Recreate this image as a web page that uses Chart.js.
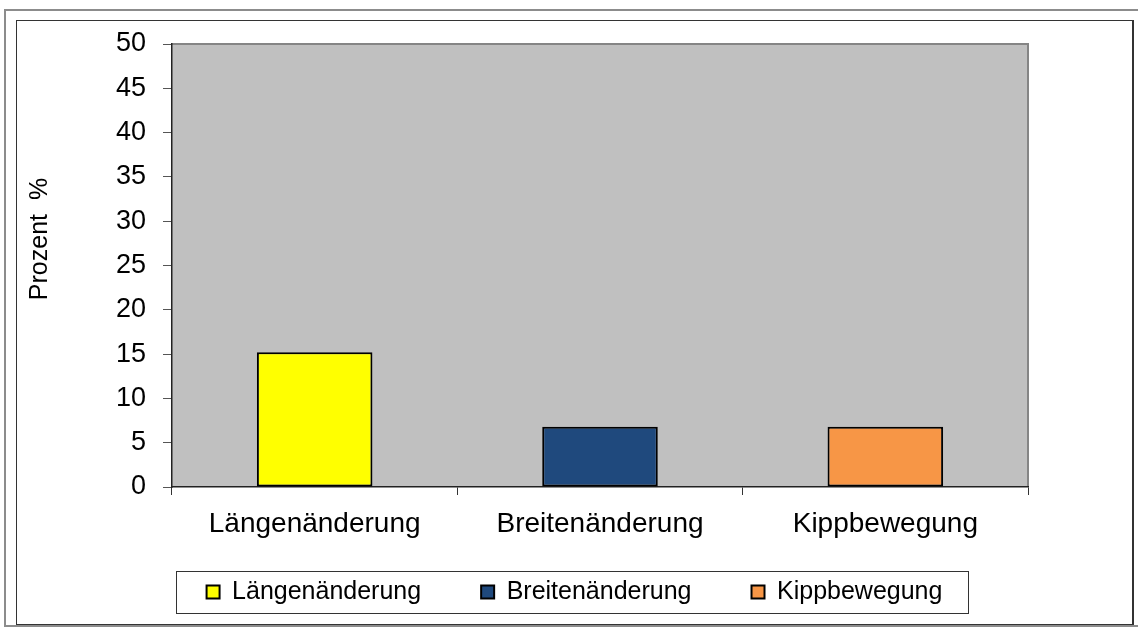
<!DOCTYPE html>
<html lang="de">
<head>
    <meta charset="UTF-8">
    <title>Prozent</title>
    <style>
        body {
            margin: 0;
            background: #fff;
            font-family: "Liberation Sans", Arial, sans-serif;
        }
        .outer {
            position: absolute;
            left: 4px;
            top: 9px;
            width: 1150px;
            height: 614px;
            border-top: 2px solid #8c8c8c;
            border-left: 2px solid #8c8c8c;
            border-bottom: 2px solid #8c8c8c;
        }
        .inner {
            position: absolute;
            left: 16px;
            top: 20px;
            width: 1115px;
            height: 603px;
            border: 1px solid #333;
            border-right: 2px solid #333;
            background: #fff;
        }
        canvas {
            display: block;
        }
    </style>
</head>
<body>
    <div class="outer"></div>
    <div class="inner">
        <canvas id="chart" width="1115" height="603"></canvas>
    </div>

    <script src="https://cdn.jsdelivr.net/npm/chart.js"></script>
    <script>
        const categories = ['Längenänderung', 'Breitenänderung', 'Kippbewegung'];
        const values = [15.2, 6.8, 6.8];
        const colors = ['#ffff00', '#1f497d', '#f79646'];
        const yTicks = [0, 5, 10, 15, 20, 25, 30, 35, 40, 45, 50];
        const yTitle = 'Prozent  %';

        // ein Datensatz pro Kategorie, damit die Legende drei Einträge hat
        const datasets = categories.map((name, i) => ({
            label: name,
            data: categories.map((c, j) => (j === i ? values[i] : null)),
            backgroundColor: colors[i],
            borderColor: '#000',
            borderWidth: 2,
            borderSkipped: false,
            grouped: false,
            categoryPercentage: 1,
            barPercentage: 0.405
        }));

        const plotBackground = {
            id: 'plotBackground',
            beforeDraw(chart) {
                const { ctx, chartArea: a } = chart;
                ctx.save();
                ctx.fillStyle = '#c0c0c0';
                ctx.fillRect(a.left, a.top, a.right - a.left, a.bottom - a.top);
                ctx.strokeStyle = '#858585';
                ctx.lineWidth = 2;
                ctx.beginPath();
                ctx.moveTo(a.left, a.top);
                ctx.lineTo(a.right, a.top);
                ctx.lineTo(a.right, a.bottom);
                ctx.stroke();
                ctx.restore();
            }
        };

        const extras = {
            id: 'extras',
            afterDraw(chart) {
                const ctx = chart.ctx;
                ctx.save();
                // Achsentitel
                ctx.translate(23, 218);
                ctx.rotate(-Math.PI / 2);
                ctx.font = '25px "Liberation Sans", Arial, sans-serif';
                ctx.fillStyle = '#000';
                ctx.textAlign = 'center';
                ctx.textBaseline = 'middle';
                ctx.fillText(yTitle, 0, 0);
                ctx.restore();

                // Rahmen um die Legende
                const boxes = chart.legend.legendHitBoxes;
                if (boxes && boxes.length) {
                    const left = Math.min(...boxes.map(b => b.left)) - 31;
                    const right = Math.max(...boxes.map(b => b.left + b.width)) + 25;
                    const cy = boxes[0].top + boxes[0].height / 2;
                    ctx.save();
                    ctx.strokeStyle = '#333';
                    ctx.lineWidth = 1;
                    ctx.strokeRect(Math.round(left) + 0.5, Math.round(cy - 21) + 0.5, Math.round(right - left), 42);
                    ctx.restore();
                }
            }
        };

        new Chart(document.getElementById('chart'), {
            type: 'bar',
            data: { labels: categories, datasets: datasets },
            plugins: [plotBackground, extras],
            options: {
                responsive: false,
                animation: false,
                layout: { padding: { top: 23, left: 0, right: 0, bottom: 9.5 } },
                plugins: {
                    tooltip: { enabled: false },
                    legend: {
                        position: 'bottom',
                        labels: {
                            boxWidth: 13,
                            boxHeight: 13,
                            padding: 60,
                            color: '#000',
                            font: { family: '"Liberation Sans", Arial, sans-serif', size: 25 }
                        }
                    }
                },
                scales: {
                    x: {
                        afterFit(scale) {
                            scale.height = 32.5;
                            // Beschriftung nicht auf die Achsenhöhe beschneiden
                            scale._computeLabelArea = () => undefined;
                        },
                        grid: {
                            offset: true,
                            drawOnChartArea: false,
                            drawTicks: true,
                            tickLength: 8,
                            color: '#333'
                        },
                        border: { display: true, color: '#222', width: 1.5 },
                        ticks: {
                            padding: 12,
                            color: '#000',
                            maxRotation: 0,
                            font: { family: '"Liberation Sans", Arial, sans-serif', size: 28 }
                        }
                    },
                    y: {
                        min: 0,
                        max: 50,
                        afterFit(scale) { scale.width = 155; },
                        afterBuildTicks(scale) {
                            scale.ticks = yTicks.map(v => ({ value: v }));
                        },
                        grid: {
                            drawOnChartArea: false,
                            drawTicks: true,
                            tickLength: 9,
                            color: '#555'
                        },
                        border: { display: true, color: '#222', width: 1.5 },
                        ticks: {
                            padding: 17,
                            color: '#000',
                            // kleine Zeilenhöhe, damit oben kein Zusatzrand entsteht
                            font: { family: '"Liberation Sans", Arial, sans-serif', size: 27, lineHeight: 0.4 }
                        }
                    },
                    // leere Achse rechts, hält den Platz rechts vom Diagramm frei
                    yRight: {
                        position: 'right',
                        afterFit(scale) { scale.width = 104; },
                        grid: { display: false },
                        border: { display: false },
                        ticks: { display: false }
                    }
                }
            }
        });
    </script>
</body>
</html>
